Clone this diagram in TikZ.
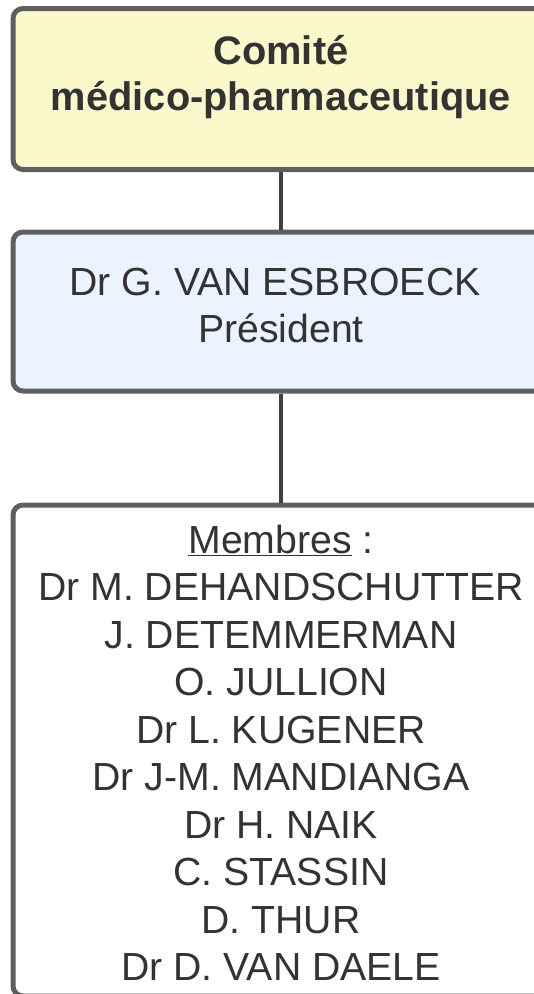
\documentclass[tikz,border=0pt]{standalone}
\usepackage{fontspec}
\setmainfont{Liberation Sans}
\usetikzlibrary{positioning}
\usetikzlibrary{calc}

\definecolor{txtgray}{HTML}{333333}
\definecolor{bordergray}{HTML}{5F5F5F}
\definecolor{linkgray}{HTML}{3B414A}
\definecolor{comyellow}{HTML}{FBF9CB}
\definecolor{presblue}{HTML}{EAF3FE}

\begin{document}
\begin{tikzpicture}[x=1pt,y=-1pt,
			box/.style={draw=bordergray,line width=5pt,rounded corners=10pt,inner sep=0pt,minimum width=536pt},
			line/.style={anchor=base,text=txtgray,inner sep=0pt,font=\fontsize{39.2}{47.5}\selectfont},
			link/.style={draw=linkgray,line width=4pt}]
			\useasboundingbox (0,0) rectangle (534,994);
			\clip (0,0) rectangle (534,994);
			
			\node[box,fill=comyellow,minimum height=161pt]  (comite)  at (281,89)    {};
			\node[box,fill=presblue,minimum height=159pt]   (pres)    at (281,311.5) {};
			\node[box,fill=white,minimum height=491pt]      (membres) at (281,750.5) {};
			
			\path[link] (comite.south) -- (pres.north)
			(pres.south) -- (membres.north);
			
			% titre
			\node[line,font=\fontsize{39.8}{47.5}\selectfont\bfseries] (t1) at (281,64)  {Comité};
			\node[line,font=\fontsize{39.8}{47.5}\selectfont\bfseries] (t2) at (281,110) {médico-pharmaceutique};
			
			% president
			\node[line] (p1) at (275,295) {Dr G. VAN ESBROECK};
			\node[line] (p2) at (281,342) {Président};
			
			% membres
			\node[line] (m0) at (281,553) {\underline{Membres} :};
			\foreach \name [count=\i] in {Dr M. DEHANDSCHUTTER,J. DETEMMERMAN,O. JULLION,Dr L. KUGENER,Dr J-M. MANDIANGA,Dr H. NAIK,C. STASSIN,D. THUR,Dr D. VAN DAELE}
			\node[line] (m\i) at (281,553+47.5*\i) {\name};
\end{tikzpicture}
\end{document}
